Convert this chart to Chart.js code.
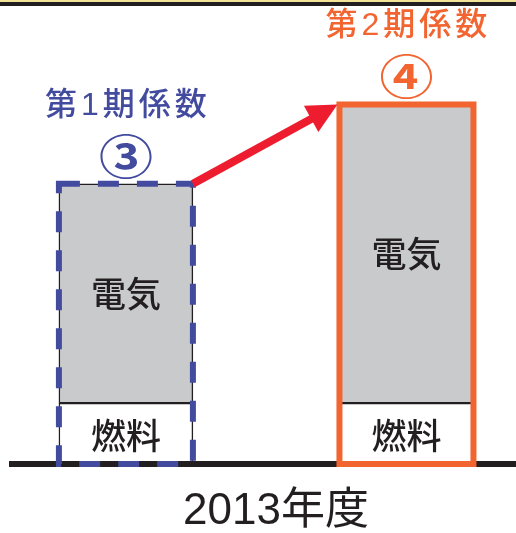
<!DOCTYPE html>
<html lang="ja">
<head>
    <meta charset="UTF-8">
    <title>2013年度 係数</title>
    <style>
        html, body {
            margin: 0;
            padding: 0;
            background: #fff;
            overflow: hidden;
        }
        .rule {
            position: absolute;
            top: 0;
            left: 0;
            width: 100%;
            height: 6px;
            background: linear-gradient(#f4e497 0 2px, #231f20 2px 6px);
            z-index: 2;
        }
        .chart-box {
            position: relative;
            width: 540px;
            height: 533px;
        }
    </style>
</head>
<body>
    <div class="rule"></div>
    <div class="chart-box">
        <canvas id="coefChart"></canvas>
    </div>
    <script src="https://cdn.jsdelivr.net/npm/chart.js"></script>
    <script>
        // periods shown side by side, with their circled numbers
        const periods = ['第1期係数', '第2期係数'];
        const periodMarks = ['③', '④'];
        // stacked segments, bottom first
        const segmentNames = ['燃料', '電気'];
        const fuelValues = [20, 20];
        const electricValues = [72, 98];
        const yearLabel = '2013年度';

        const INK = '#231f20';
        const periodColors = ['#434b9f', '#f26430'];
        const JP_FONT = "'Liberation Sans', 'Noto Sans CJK JP', sans-serif";

        // labels, outlines and the arrow between the two bars
        const decorations = {
            id: 'decorations',
            afterDraw(chart) {
                const ctx = chart.ctx;
                const fuelBars = chart.getDatasetMeta(0).data;
                const elecBars = chart.getDatasetMeta(1).data;
                const boxes = elecBars.map((bar, i) => {
                    const top = bar.getProps(['x', 'y', 'width', 'base'], true);
                    const low = fuelBars[i].getProps(['y', 'base'], true);
                    return { x: top.x, w: top.width, top: top.y, mid: top.base, fuelTop: low.y, bottom: low.base };
                });

                ctx.save();
                ctx.textAlign = 'center';
                ctx.textBaseline = 'middle';

                boxes.forEach((b, i) => {
                    // segment names inside the bar
                    ctx.fillStyle = INK;
                    ctx.font = "500 35px 'Noto Sans CJK JP', sans-serif";
                    ctx.fillText(segmentNames[1], b.x, (b.top + b.mid) / 2);
                    ctx.fillText(segmentNames[0], b.x, (b.fuelTop + b.bottom) / 2 + 2);

                    // outline round the whole stack
                    ctx.lineWidth = 6;
                    ctx.strokeStyle = periodColors[i];
                    ctx.setLineDash(i === 0 ? [21, 18] : []);
                    ctx.strokeRect(b.x - b.w / 2, b.top, b.w, b.bottom - b.top);
                    ctx.setLineDash([]);

                    // period name and circled number above
                    ctx.fillStyle = periodColors[i];
                    ctx.font = "500 32px " + JP_FONT;
                    ctx.letterSpacing = '4px';
                    ctx.fillText(periods[i], b.x + 2, b.top - 78);
                    ctx.letterSpacing = '0px';
                    ctx.save();
                    ctx.translate(b.x, b.top - 28);
                    ctx.scale(1.15, 1);
                    ctx.font = "bold 47px 'Noto Sans CJK JP', sans-serif";
                    ctx.fillText(periodMarks[i], 0, 0);
                    ctx.restore();
                });

                // arrow from the first bar's top corner to the second
                const a = boxes[0], c = boxes[1];
                const x0 = a.x + a.w / 2, y0 = a.top;
                const x1 = c.x - c.w / 2 - 2, y1 = c.top;
                const ang = Math.atan2(y1 - y0, x1 - x0);
                const headLen = 30, headHalf = 15;
                const bx = x1 - headLen * Math.cos(ang), by = y1 - headLen * Math.sin(ang);
                ctx.strokeStyle = '#ed1c2e';
                ctx.fillStyle = '#ed1c2e';
                ctx.lineWidth = 8;
                ctx.lineCap = 'butt';
                ctx.beginPath();
                ctx.moveTo(x0, y0);
                ctx.lineTo(bx + 2 * Math.cos(ang), by + 2 * Math.sin(ang));
                ctx.stroke();
                ctx.beginPath();
                ctx.moveTo(x1, y1);
                ctx.lineTo(bx + headHalf * Math.sin(ang), by - headHalf * Math.cos(ang));
                ctx.lineTo(bx - headHalf * Math.sin(ang), by + headHalf * Math.cos(ang));
                ctx.closePath();
                ctx.fill();

                ctx.restore();
            }
        };

        const ctx = document.getElementById('coefChart').getContext('2d');
        new Chart(ctx, {
            type: 'bar',
            data: {
                datasets: [{
                    label: segmentNames[0],
                    data: fuelValues.map((v, i) => ({ x: i, y: v })),
                    backgroundColor: '#ffffff',
                    borderColor: INK,
                    borderWidth: 1.5,
                    barThickness: 134
                }, {
                    label: segmentNames[1],
                    data: electricValues.map((v, i) => ({ x: i, y: v })),
                    backgroundColor: '#c9cacc',
                    borderColor: INK,
                    borderWidth: 1.5,
                    borderSkipped: false,
                    barThickness: 134
                }]
            },
            options: {
                responsive: true,
                maintainAspectRatio: false,
                animation: false,
                layout: {
                    padding: { top: 7, left: 12, right: 0, bottom: 0 }
                },
                plugins: {
                    legend: { display: false },
                    tooltip: { enabled: false }
                },
                scales: {
                    x: {
                        type: 'linear',
                        stacked: true,
                        offset: false,
                        min: -0.406,
                        max: 1.476,
                        ticks: { display: false },
                        grid: { display: false, drawTicks: false, offset: false },
                        border: { display: true, color: INK, width: 6, z: 1 },
                        title: {
                            display: true,
                            text: yearLabel,
                            color: INK,
                            font: { family: JP_FONT, size: 44, lineHeight: 1.1 },
                            padding: { top: 23.6, bottom: -3 }
                        }
                    },
                    y: {
                        display: false,
                        stacked: true,
                        min: 0,
                        max: 150
                    }
                }
            },
            plugins: [decorations]
        });
    </script>
</body>
</html>
